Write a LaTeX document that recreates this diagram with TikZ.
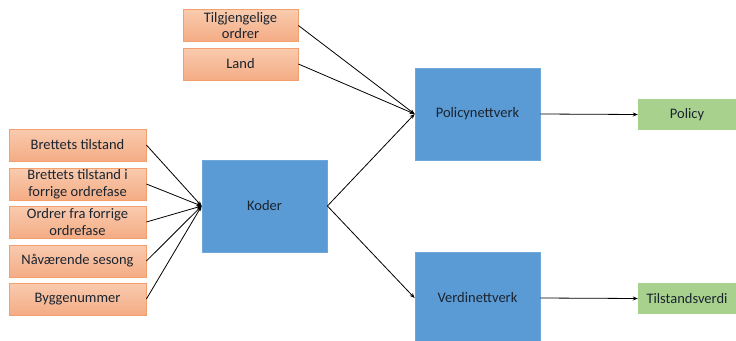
\documentclass[tikz,border=0pt]{standalone}
\usepackage{fontspec}
\setmainfont{Carlito}
\usetikzlibrary{arrows.meta}
\definecolor{inTop}{HTML}{F9CBAE}
\definecolor{inBot}{HTML}{F4AC85}
\definecolor{inLine}{HTML}{F3A06E}
\definecolor{netFill}{HTML}{5B9BD5}
\definecolor{netLine}{HTML}{6FA7DA}
\definecolor{outFill}{HTML}{A9D18E}
\definecolor{txt}{HTML}{1A2430}
\begin{document}
\begin{tikzpicture}[x=1pt,y=-1pt,
  every node/.style={font=\fontsize{14.5}{16.5}\selectfont, text=txt, align=center, inner sep=0pt},
  inbox/.style={draw=inLine, line width=0.8pt, top color=inTop, bottom color=inBot, minimum height=32pt},
  netbox/.style={draw=netLine, line width=0.8pt, fill=netFill, minimum width=125pt, minimum height=92pt},
  outbox/.style={fill=outFill, minimum width=98pt, minimum height=31pt},
  link/.style={-{Stealth[length=5pt,width=4pt]}, line width=0.8pt, black}]
\useasboundingbox (0,0) rectangle (736,340);
% input features
\node[inbox, minimum width=115pt] (avail) at (240.5,25.5) {Tilgjengelige\\ordrer};
\node[inbox, minimum width=115pt] (land) at (240.5,64) {Land};
\node[inbox, minimum width=137pt] (state) at (77.5,145) {Brettets tilstand};
\node[inbox, minimum width=137pt] (prevstate) at (77.5,184) {Brettets tilstand i\\forrige ordrefase};
\node[inbox, minimum width=137pt] (prevorders) at (77.5,222) {Ordrer fra forrige\\ordrefase};
\node[inbox, minimum width=137pt] (season) at (77.5,261) {Nåværende sesong};
\node[inbox, minimum width=137pt] (build) at (77.5,299) {Byggenummer};
% networks
\node[netbox] (enc) at (264.5,206) {Koder};
\node[netbox] (pol) at (477.5,114) {Policynettverk};
\node[netbox, minimum height=90pt, anchor=north] (val) at (477.5,252) {};
\node at (477.5,298) (valtxt) {Verdinettverk};
% outputs
\node[outbox] (policy) at (687,114.5) {Policy};
\node[outbox] (value) at (687,298.5) {Tilstandsverdi};
% connectors
\foreach \s in {state,prevstate,prevorders,season,build}
  \draw[link] (\s.east) -- (enc.west);
\draw[link] (avail.east) -- (pol.west);
\draw[link] (land.east) -- (pol.west);
\draw[link] (enc.east) -- (pol.west);
\draw[link] (enc.east) -- (val.west |- valtxt);
\draw[link] (pol.east) -- (policy.west);
\draw[link] (val.east |- valtxt) -- (value.west);
\end{tikzpicture}
\end{document}
